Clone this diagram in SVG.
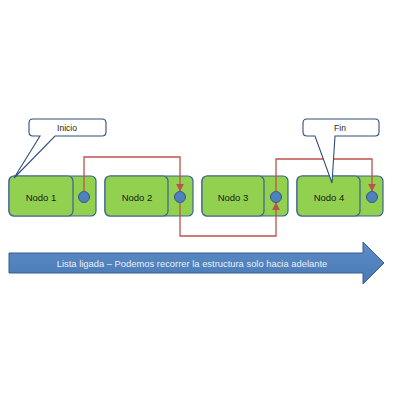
<svg xmlns="http://www.w3.org/2000/svg" width="400" height="400" viewBox="0 0 400 400">
<defs>
<style>
.outer{fill:#92D050;stroke:#3B6593;stroke-width:1.2}
.inner{fill:#92D050;stroke:#3B6593;stroke-width:1.2}
.dot{fill:#4F81BD;stroke:#2F5A8A;stroke-width:1}
.lbl{font-family:"Liberation Sans",Arial,sans-serif;font-size:9.5px;fill:#1a1a1a;text-anchor:middle;dominant-baseline:central}
.call{fill:#fff;stroke:#2F4F7A;stroke-width:1.1}
.ctext{font-family:"Liberation Sans",Arial,sans-serif;font-size:8.5px;fill:#222;text-anchor:middle;dominant-baseline:central}
.link{fill:none;stroke:#C0504D;stroke-width:1.3}
</style>
<marker id="ah" viewBox="0 0 10 10" refX="9" refY="5" markerWidth="6" markerHeight="6" orient="auto">
<path d="M0,0 L10,5 L0,10 z" fill="#C0504D"/>
</marker>
<linearGradient id="ag" x1="0" y1="0" x2="0" y2="1">
<stop offset="0" stop-color="#5B8CC6"/>
<stop offset="1" stop-color="#4A7AB5"/>
</linearGradient>
</defs>
<rect width="400" height="400" fill="#fff"/>

<g id="node1">
<rect class="outer" x="9" y="176" width="87" height="40" rx="5"/>
<rect class="inner" x="9" y="176" width="64" height="40" rx="5"/>
<text class="lbl" x="41" y="197">Nodo 1</text>
<circle class="dot" cx="84" cy="197" r="5.5"/>
</g>
<g id="node2">
<rect class="outer" x="105" y="176" width="88" height="40" rx="5"/>
<rect class="inner" x="105" y="176" width="63" height="40" rx="5"/>
<text class="lbl" x="137" y="197">Nodo 2</text>
<circle class="dot" cx="180" cy="197" r="5.5"/>
</g>
<g id="node3">
<rect class="outer" x="202" y="176" width="86" height="40" rx="5"/>
<rect class="inner" x="202" y="176" width="62" height="40" rx="5"/>
<text class="lbl" x="233" y="197">Nodo 3</text>
<circle class="dot" cx="276" cy="197" r="5.5"/>
</g>
<g id="node4">
<rect class="outer" x="297" y="176" width="86" height="40" rx="5"/>
<rect class="inner" x="297" y="176" width="63" height="40" rx="5"/>
<text class="lbl" x="329" y="197">Nodo 4</text>
<circle class="dot" cx="372" cy="197" r="5.5"/>
</g>

<g id="connectors">
<path class="link" d="M84,191.5 V157 H180 V191" marker-end="url(#ah)"/>
<path class="link" d="M180,202.5 V236 H276 V203" marker-end="url(#ah)"/>
<path class="link" d="M276,191.5 V159 H372 V191" marker-end="url(#ah)"/>
</g>

<g id="inicio">
<path class="call" d="M33,119 H102 Q106,119 106,123 V132 Q106,136 102,136 H55 L14,178 L40,136 H33 Q29,136 29,132 V123 Q29,119 33,119 Z"/>
<text class="ctext" x="67" y="128">Inicio</text>
</g>
<g id="fin">
<path class="call" d="M307,119 H375 Q379,119 379,123 V132 Q379,136 375,136 H335 L332,183 L315,136 H307 Q303,136 303,132 V123 Q303,119 307,119 Z"/>
<text class="ctext" x="340" y="128">Fin</text>
</g>

<g id="arrow">
<path d="M9,253 H363 V242 L384,263 L363,284 V273 H9 Z" fill="url(#ag)" stroke="#385D8A" stroke-width="1"/>
<text x="192" y="263" font-family="Liberation Sans,Arial,sans-serif" font-size="9.4" fill="#EAF0F8" text-anchor="middle" dominant-baseline="central">Lista ligada – Podemos recorrer  la estructura  solo hacia adelante</text>
</g>
</svg>
